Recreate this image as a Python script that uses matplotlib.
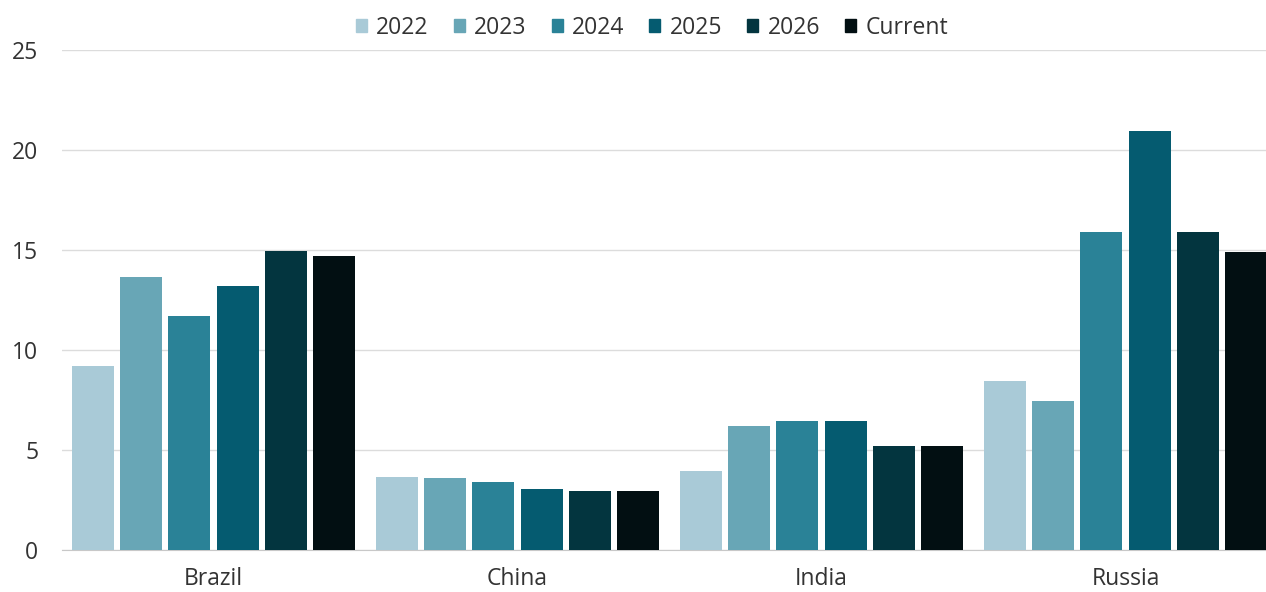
import matplotlib.pyplot as plt
import numpy as np
from matplotlib.patches import Patch

plt.rcParams['font.family'] = ['Open Sans', 'DejaVu Sans']

countries = ["Brazil", "China", "India", "Russia"]
series = ["2022", "2023", "2024", "2025", "2026", "Current"]
v2022 = [9.2, 3.65, 3.95, 8.45]
v2023 = [13.65, 3.6, 6.2, 7.45]
v2024 = [11.7, 3.4, 6.45, 15.9]
v2025 = [13.2, 3.05, 6.45, 20.95]
v2026 = [14.95, 2.95, 5.2, 15.9]
vcurrent = [14.7, 2.95, 5.2, 14.9]
colors = ["#a9cad7", "#68a6b6", "#2a8297", "#055b70", "#03353f", "#020f12"]

values = [v2022, v2023, v2024, v2025, v2026, vcurrent]

fig = plt.figure(figsize=(12.66, 5.92), dpi=100)
ax = fig.add_axes([0.0490, 0.071, 0.9510, 0.845])

x = np.arange(len(countries))
step = 0.1586
width = 0.138
for i, (name, vals) in enumerate(zip(series, values)):
    ax.bar(x + (i - 2.5) * step, vals, width, color=colors[i], label=name, zorder=3)

ax.set_xlim(-0.4984, 3.462)
ax.set_ylim(0, 25)
ax.set_yticks([0, 5, 10, 15, 20, 25])
ax.set_xticks(x)
ax.set_xticklabels(countries)
ax.grid(axis='y', color='#dcdcdc', linewidth=1, zorder=0)
for s in ['top', 'right', 'left']:
    ax.spines[s].set_visible(False)
ax.spines['bottom'].set_color('#c8c8c8')
ax.tick_params(axis='both', length=0, labelsize=16.5, colors='#333333')
ax.tick_params(axis='y', pad=17)
ax.tick_params(axis='x', pad=12)

handles = [Patch(color=c, label=s) for c, s in zip(colors, series)]
fig.legend(handles=handles, loc='center', bbox_to_anchor=(0.515, 0.953), ncol=6,
           frameon=False, fontsize=16.5, handlelength=0.48, handleheight=0.48,
           handletextpad=0.4, columnspacing=1.1, labelcolor='#333333')

fig.savefig("out.png", dpi=100)
